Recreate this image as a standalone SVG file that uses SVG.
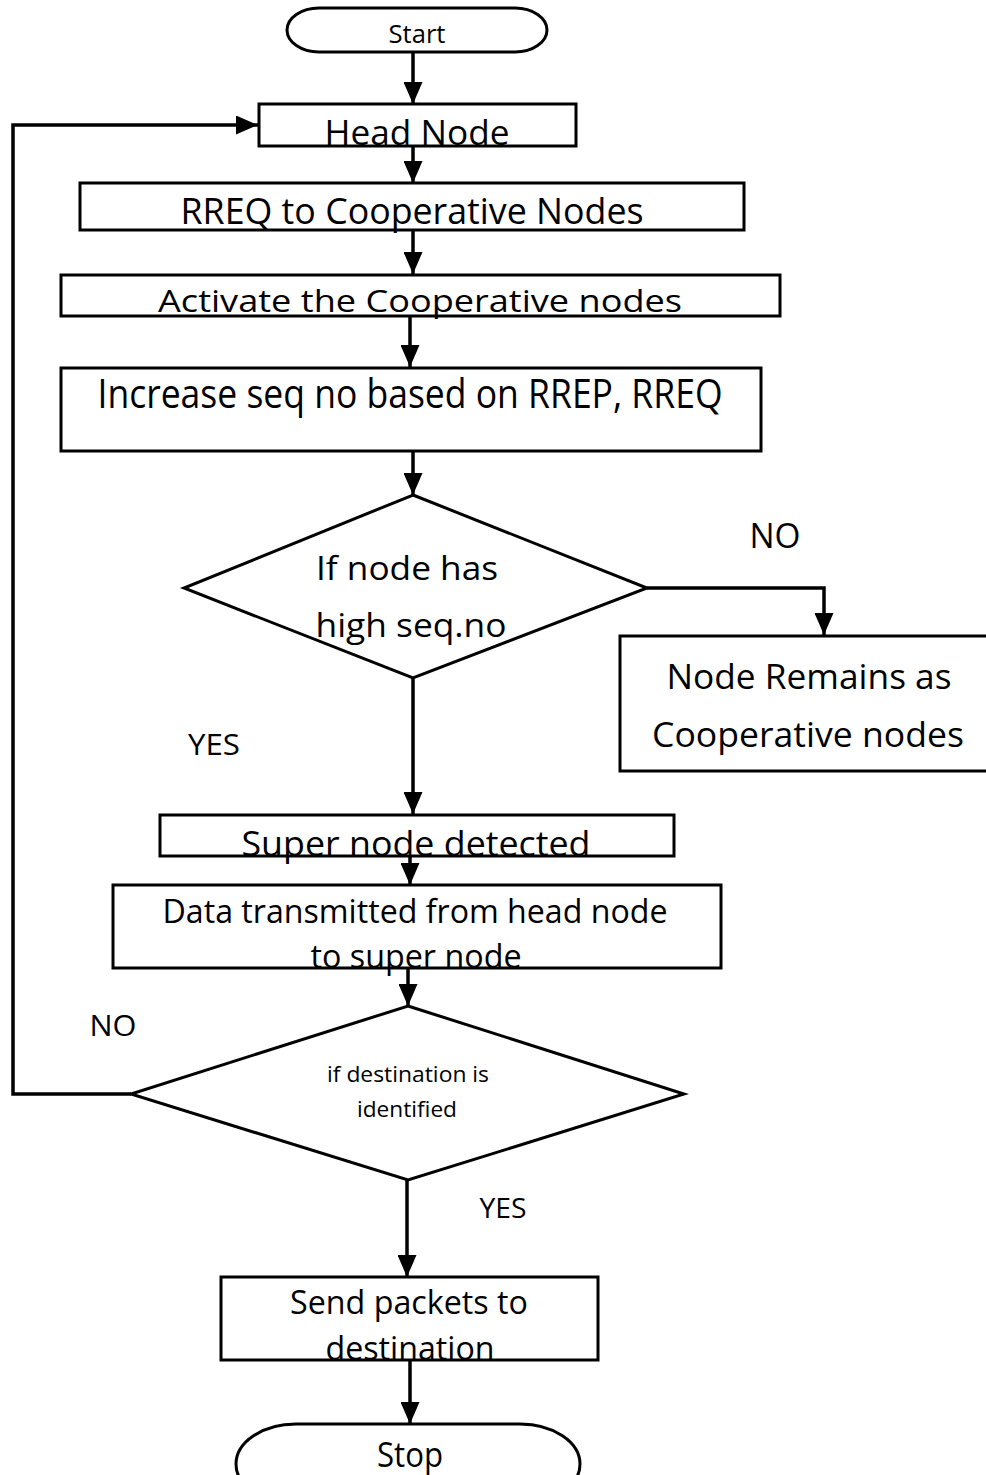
<svg xmlns="http://www.w3.org/2000/svg" width="986" height="1475" viewBox="0 0 986 1475">
<style>
.s{fill:#fff;stroke:#000;stroke-width:3}
.t{font-family:"Open Sans","Noto Sans",sans-serif;fill:#000;text-anchor:middle}
.c{fill:none;stroke:#000;stroke-width:3.5}
</style>
<defs>
<marker id="ah" markerUnits="userSpaceOnUse" markerWidth="22" markerHeight="19" viewBox="0 0 22 19" refX="22" refY="9.5" orient="auto">
<path d="M0,0 L22,9.5 L0,19 Z" fill="#000"/>
</marker>
</defs>
<rect width="986" height="1475" fill="#fff"/>
<g id="start">
<rect class="s" x="287" y="8" width="260" height="44" rx="32" ry="22"/>
<text class="t" x="417" y="43" font-size="25" textLength="57" lengthAdjust="spacingAndGlyphs">Start</text>
</g>
<g id="head">
<rect class="s" x="259" y="104" width="317" height="42"/>
<text class="t" x="417" y="145" font-size="34" textLength="185" lengthAdjust="spacingAndGlyphs">Head Node</text>
</g>
<g id="rreq">
<rect class="s" x="80" y="183" width="664" height="47"/>
<text class="t" x="412" y="224" font-size="36" textLength="463" lengthAdjust="spacingAndGlyphs">RREQ to Cooperative Nodes</text>
</g>
<g id="activate">
<rect class="s" x="61" y="275" width="719" height="41"/>
<text class="t" x="420" y="312" font-size="31" textLength="524" lengthAdjust="spacingAndGlyphs">Activate the Cooperative nodes</text>
</g>
<g id="increase">
<rect class="s" x="61" y="368" width="700" height="83"/>
<text class="t" x="410" y="408" font-size="40" textLength="625" lengthAdjust="spacingAndGlyphs">Increase seq no based on RREP, RREQ</text>
</g>
<g id="decision1">
<polygon class="s" points="413,495 647,588 413,678 184,588"/>
<text class="t" x="407" y="580" font-size="33" textLength="182" lengthAdjust="spacingAndGlyphs">If node has</text>
<text class="t" x="411" y="637" font-size="33" textLength="191" lengthAdjust="spacingAndGlyphs">high seq.no</text>
</g>
<g id="remain">
<rect class="s" x="620" y="636" width="370" height="135"/>
<text class="t" x="809" y="689" font-size="34" textLength="285" lengthAdjust="spacingAndGlyphs">Node Remains as</text>
<text class="t" x="808" y="747" font-size="34" textLength="312" lengthAdjust="spacingAndGlyphs">Cooperative nodes</text>
</g>
<g id="super">
<rect class="s" x="160" y="815" width="514" height="41"/>
<text class="t" x="416" y="856" font-size="35" textLength="349" lengthAdjust="spacingAndGlyphs">Super node detected</text>
</g>
<g id="data">
<rect class="s" x="113" y="885" width="608" height="83"/>
<text class="t" x="415" y="923" font-size="32" textLength="505" lengthAdjust="spacingAndGlyphs">Data transmitted from head node</text>
<text class="t" x="416" y="968" font-size="32" textLength="211" lengthAdjust="spacingAndGlyphs">to super node</text>
</g>
<g id="decision2">
<polygon class="s" points="408,1006 684,1094 408,1180 131,1094"/>
<text class="t" x="408" y="1082" font-size="22" textLength="162" lengthAdjust="spacingAndGlyphs">if destination is</text>
<text class="t" x="407" y="1117" font-size="22" textLength="100" lengthAdjust="spacingAndGlyphs">identified</text>
</g>
<g id="send">
<rect class="s" x="221" y="1277" width="377" height="83"/>
<text class="t" x="409" y="1314" font-size="32" textLength="238" lengthAdjust="spacingAndGlyphs">Send packets to</text>
<text class="t" x="410" y="1360" font-size="32" textLength="169" lengthAdjust="spacingAndGlyphs">destination</text>
</g>
<g id="stop">
<rect class="s" x="236" y="1424" width="344" height="80" rx="60" ry="40"/>
<text class="t" x="410" y="1467" font-size="34" textLength="66" lengthAdjust="spacingAndGlyphs">Stop</text>
</g>
<g id="labels">
<text class="t" x="775" y="548" font-size="35" textLength="51" lengthAdjust="spacingAndGlyphs">NO</text>
<text class="t" x="214" y="755" font-size="30" textLength="52" lengthAdjust="spacingAndGlyphs">YES</text>
<text class="t" x="113" y="1036" font-size="29" textLength="47" lengthAdjust="spacingAndGlyphs">NO</text>
<text class="t" x="503" y="1218" font-size="28" textLength="47" lengthAdjust="spacingAndGlyphs">YES</text>
</g>
<g id="connectors">
<line class="c" x1="413" y1="52" x2="413" y2="104" marker-end="url(#ah)"/>
<line class="c" x1="413" y1="146" x2="413" y2="183" marker-end="url(#ah)"/>
<line class="c" x1="413" y1="230" x2="413" y2="274" marker-end="url(#ah)"/>
<line class="c" x1="410" y1="316" x2="410" y2="367" marker-end="url(#ah)"/>
<line class="c" x1="413" y1="451" x2="413" y2="495" marker-end="url(#ah)"/>
<polyline class="c" points="647,588 824,588 824,635" marker-end="url(#ah)"/>
<line class="c" x1="413" y1="678" x2="413" y2="814" marker-end="url(#ah)"/>
<line class="c" x1="410" y1="856" x2="410" y2="885" marker-end="url(#ah)"/>
<line class="c" x1="408" y1="968" x2="408" y2="1006" marker-end="url(#ah)"/>
<polyline class="c" points="131,1094 13,1094 13,125 258,125" marker-end="url(#ah)"/>
<line class="c" x1="407" y1="1180" x2="407" y2="1277" marker-end="url(#ah)"/>
<line class="c" x1="410" y1="1360" x2="410" y2="1424" marker-end="url(#ah)"/>
</g>
</svg>
